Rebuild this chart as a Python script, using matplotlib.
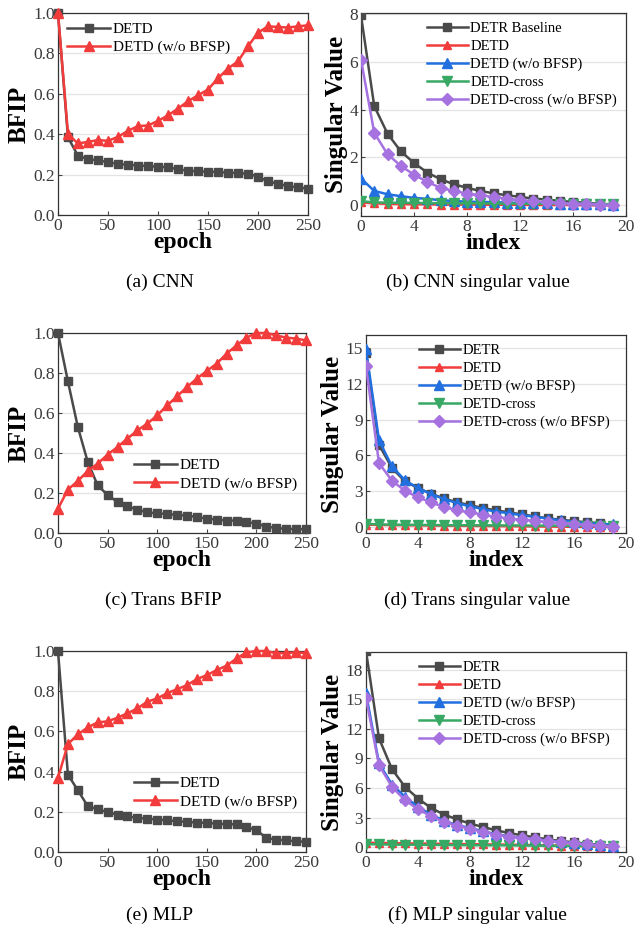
import numpy as np
import matplotlib
matplotlib.use('Agg')
import matplotlib.pyplot as plt

plt.rcParams['font.family'] = ['Liberation Serif', 'DejaVu Serif']

epoch = list(range(0, 251, 10))
index = list(range(20))

# (a) CNN BFIP
cnn_detd = [1.0, 0.384, 0.293, 0.277, 0.27, 0.262, 0.252, 0.249, 0.245, 0.242, 0.239, 0.236, 0.227,
            0.219, 0.216, 0.214, 0.213, 0.209, 0.208, 0.204, 0.19, 0.166, 0.155, 0.143, 0.137, 0.13]
cnn_nobfsp = [1.0, 0.40, 0.354, 0.362, 0.371, 0.367, 0.387, 0.417, 0.44, 0.443, 0.466, 0.493, 0.527,
              0.563, 0.593, 0.621, 0.677, 0.725, 0.761, 0.835, 0.903, 0.934, 0.931, 0.928, 0.934, 0.939]

# (c) Trans BFIP
trans_detd = [1.0, 0.758, 0.53, 0.355, 0.238, 0.19, 0.155, 0.133, 0.117, 0.103, 0.098, 0.095, 0.09,
              0.087, 0.08, 0.072, 0.067, 0.062, 0.062, 0.055, 0.047, 0.032, 0.025, 0.02, 0.02, 0.018]
trans_nobfsp = [0.122, 0.217, 0.26, 0.31, 0.347, 0.392, 0.43, 0.472, 0.513, 0.547, 0.588, 0.638, 0.683,
                0.73, 0.772, 0.81, 0.847, 0.897, 0.938, 0.977, 1.0, 1.0, 0.988, 0.977, 0.972, 0.963]

# (e) MLP BFIP
mlp_detd = [1.0, 0.385, 0.307, 0.228, 0.213, 0.198, 0.186, 0.178, 0.169, 0.166, 0.161, 0.158, 0.153,
            0.15, 0.146, 0.145, 0.141, 0.138, 0.138, 0.125, 0.108, 0.071, 0.061, 0.058, 0.053, 0.051]
mlp_nobfsp = [0.369, 0.537, 0.585, 0.62, 0.645, 0.65, 0.668, 0.69, 0.714, 0.748, 0.764, 0.79, 0.81,
              0.83, 0.86, 0.88, 0.905, 0.927, 0.963, 0.993, 1.0, 1.0, 0.988, 0.99, 0.993, 0.99]

# (b) CNN singular value
cnn_sv_detr = [7.95, 4.15, 3.0, 2.26, 1.77, 1.37, 1.09, 0.88, 0.73, 0.6, 0.5, 0.42, 0.35, 0.28, 0.24,
               0.18, 0.14, 0.1, 0.06, 0.02]
cnn_sv_detd = [0.12, 0.08, 0.06, 0.05, 0.04, 0.04, 0.03, 0.03, 0.03, 0.02, 0.02, 0.02, 0.02, 0.01,
               0.01, 0.01, 0.01, 0.0, 0.0, 0.0]
cnn_sv_nobfsp = [1.12, 0.6, 0.46, 0.38, 0.31, 0.27, 0.21, 0.18, 0.15, 0.14, 0.13, 0.11, 0.1, 0.09,
                 0.08, 0.07, 0.06, 0.05, 0.04, 0.02]
cnn_sv_cross = [0.17, 0.12, 0.11, 0.1, 0.1, 0.09, 0.09, 0.08, 0.08, 0.08, 0.07, 0.07, 0.07, 0.06,
                0.06, 0.06, 0.05, 0.05, 0.05, 0.05]
cnn_sv_cross_nobfsp = [6.1, 3.03, 2.14, 1.65, 1.28, 0.98, 0.73, 0.6, 0.49, 0.42, 0.34, 0.28, 0.21,
                       0.17, 0.13, 0.1, 0.07, 0.06, 0.03, 0.0]

# (d) Trans singular value
trans_sv_detr = [14.6, 6.9, 4.94, 3.83, 3.27, 2.79, 2.4, 2.07, 1.84, 1.59, 1.4, 1.23, 1.06, 0.89,
                 0.73, 0.61, 0.5, 0.39, 0.34, 0.11]
trans_sv_detd = [0.2, 0.18, 0.16, 0.15, 0.14, 0.13, 0.12, 0.11, 0.1, 0.09, 0.08, 0.07, 0.06, 0.05,
                 0.04, 0.03, 0.02, 0.01, 0.0, 0.0]
trans_sv_nobfsp = [14.9, 7.26, 5.08, 3.91, 3.27, 2.77, 2.35, 2.01, 1.73, 1.51, 1.28, 1.17, 0.98,
                   0.87, 0.7, 0.56, 0.45, 0.34, 0.28, 0.22]
trans_sv_cross = [0.27, 0.22, 0.2, 0.19, 0.18, 0.17, 0.16, 0.15, 0.15, 0.14, 0.14, 0.13, 0.13, 0.12,
                  0.12, 0.11, 0.11, 0.1, 0.1, 0.1]
trans_sv_cross_nobfsp = [13.46, 5.36, 3.88, 3.04, 2.49, 2.07, 1.68, 1.4, 1.23, 1.03, 0.84, 0.7, 0.61,
                         0.53, 0.42, 0.34, 0.25, 0.2, 0.11, 0.02]

# (f) MLP singular value
mlp_sv_detr = [19.9, 11.04, 7.91, 6.11, 4.93, 3.97, 3.3, 2.82, 2.38, 2.04, 1.7, 1.43, 1.19, 0.99,
               0.78, 0.61, 0.48, 0.34, 0.24, 0.1]
mlp_sv_detd = [0.45, 0.42, 0.4, 0.38, 0.36, 0.35, 0.33, 0.31, 0.3, 0.28, 0.26, 0.24, 0.22, 0.2,
               0.17, 0.14, 0.11, 0.08, 0.04, 0.0]
mlp_sv_nobfsp = [15.6, 8.49, 6.35, 5.1, 4.08, 3.3, 2.68, 2.21, 1.94, 1.6, 1.32, 1.09, 0.92, 0.78,
                 0.65, 0.51, 0.37, 0.27, 0.17, 0.1]
mlp_sv_cross = [0.3, 0.27, 0.25, 0.24, 0.23, 0.22, 0.21, 0.2, 0.19, 0.18, 0.18, 0.17, 0.16, 0.15,
                0.14, 0.13, 0.12, 0.11, 0.1, 0.1]
mlp_sv_cross_nobfsp = [15.1, 8.32, 6.11, 4.76, 3.84, 3.13, 2.55, 2.14, 1.87, 1.53, 1.26, 1.05, 0.92,
                       0.78, 0.61, 0.51, 0.37, 0.27, 0.17, 0.07]

GREY = '#4a4a4a'
RED = '#f23c3c'
BLUE = '#2270e0'
GREEN = '#38a865'
PURPLE = '#a572e0'

W, H = 637, 931
fig = plt.figure(figsize=(W / 100, H / 100), dpi=100)


def add_ax(left, top, right, bottom):
    return fig.add_axes([left / W, 1 - bottom / H, (right - left) / W, (bottom - top) / H])


def style(ax):
    ax.tick_params(direction='in', labelsize=12.5, labelcolor='#3a3a3a', color='#444444', length=3, pad=2)
    for s in ax.spines.values():
        s.set_color('#333333')
        s.set_linewidth(0.9)
    ax.grid(axis='y', color='#e3e3e3', linewidth=0.9)
    ax.set_axisbelow(True)


def bfip_panel(ax, detd, nobfsp, legend_kw):
    ax.plot(epoch, detd, color=GREY, marker='s', markersize=6, lw=1.8, label='DETD', clip_on=False, zorder=3)
    ax.plot(epoch, nobfsp, color=RED, marker='^', markersize=7, lw=1.8, label='DETD (w/o BFSP)', clip_on=False, zorder=3)
    ax.set_xlim(0, 250)
    ax.set_ylim(0, 1.0)
    ax.set_xticks([0, 50, 100, 150, 200, 250])
    ax.set_yticks(np.arange(0, 1.01, 0.2))
    ax.set_yticklabels(['%.1f' % v for v in np.arange(0, 1.01, 0.2)])
    ax.set_ylabel('BFIP', fontsize=18, fontweight='bold', labelpad=2)
    ax.set_xlabel('epoch', fontsize=17, fontweight='bold', labelpad=-1)
    style(ax)
    ax.legend(frameon=False, fontsize=11, handlelength=2.8, handletextpad=0.2,
              labelspacing=0.3, borderaxespad=0.2, **legend_kw)


def sv_panel(ax, detr, detd, nobfsp, cross, cross_nobfsp, detr_label, ylim, yticks, legend_kw):
    ax.plot(index, detr, color=GREY, marker='s', markersize=6, lw=1.8, label=detr_label, zorder=3)
    ax.plot(index, detd, color=RED, marker='^', markersize=6, lw=1.8, label='DETD', zorder=3)
    ax.plot(index, nobfsp, color=BLUE, marker='^', markersize=7, lw=1.8, label='DETD (w/o BFSP)', zorder=3)
    ax.plot(index, cross, color=GREEN, marker='v', markersize=7, lw=1.8, label='DETD-cross', zorder=3)
    ax.plot(index, cross_nobfsp, color=PURPLE, marker='D', markersize=6, lw=1.8,
            label='DETD-cross (w/o BFSP)', zorder=3)
    ax.set_xlim(0, 20)
    ax.set_ylim(*ylim)
    ax.set_xticks([0, 4, 8, 12, 16, 20])
    ax.set_yticks(yticks)
    ax.set_ylabel('Singular Value', fontsize=18, fontweight='bold', labelpad=1)
    ax.set_xlabel('index', fontsize=17, fontweight='bold', labelpad=-1)
    style(ax)
    ax.legend(frameon=False, fontsize=10.5, handlelength=2.8, handletextpad=0.2,
              labelspacing=0.32, borderaxespad=0.2, **legend_kw)


ax_a = add_ax(58, 13, 308, 215)
bfip_panel(ax_a, cnn_detd, cnn_nobfsp, dict(loc='upper left', bbox_to_anchor=(0.0, 1.0)))

ax_b = add_ax(361, 13, 626, 216)
sv_panel(ax_b, cnn_sv_detr, cnn_sv_detd, cnn_sv_nobfsp, cnn_sv_cross, cnn_sv_cross_nobfsp,
         'DETR Baseline', (-0.45, 8.05), [0, 2, 4, 6, 8],
         dict(loc='upper right', bbox_to_anchor=(1.0, 1.0)))

ax_c = add_ax(58, 333, 306, 533)
bfip_panel(ax_c, trans_detd, trans_nobfsp, dict(loc='lower right', bbox_to_anchor=(1.0, 0.165)))

ax_d = add_ax(366, 335, 626, 533)
sv_panel(ax_d, trans_sv_detr, trans_sv_detd, trans_sv_nobfsp, trans_sv_cross, trans_sv_cross_nobfsp,
         'DETR', (-0.5, 16.1), [0, 3, 6, 9, 12, 15],
         dict(loc='upper left', bbox_to_anchor=(0.17, 1.0)))

ax_e = add_ax(58, 651, 306, 852)
bfip_panel(ax_e, mlp_detd, mlp_nobfsp, dict(loc='lower right', bbox_to_anchor=(1.0, 0.17)))

ax_f = add_ax(366, 652, 626, 852)
sv_panel(ax_f, mlp_sv_detr, mlp_sv_detd, mlp_sv_nobfsp, mlp_sv_cross, mlp_sv_cross_nobfsp,
         'DETR', (-0.5, 19.8), [0, 3, 6, 9, 12, 15, 18],
         dict(loc='upper left', bbox_to_anchor=(0.17, 1.0)))

captions = [('(a) CNN', 160, 282), ('(b) CNN singular value', 478, 282),
            ('(c) Trans BFIP', 163, 600), ('(d) Trans singular value', 477, 600),
            ('(e) MLP', 160, 915), ('(f) MLP singular value', 477, 915)]
for txt, x, y in captions:
    fig.text(x / W, 1 - y / H, txt, fontsize=14, ha='center', va='center')

plt.savefig('out.png', dpi=100)
